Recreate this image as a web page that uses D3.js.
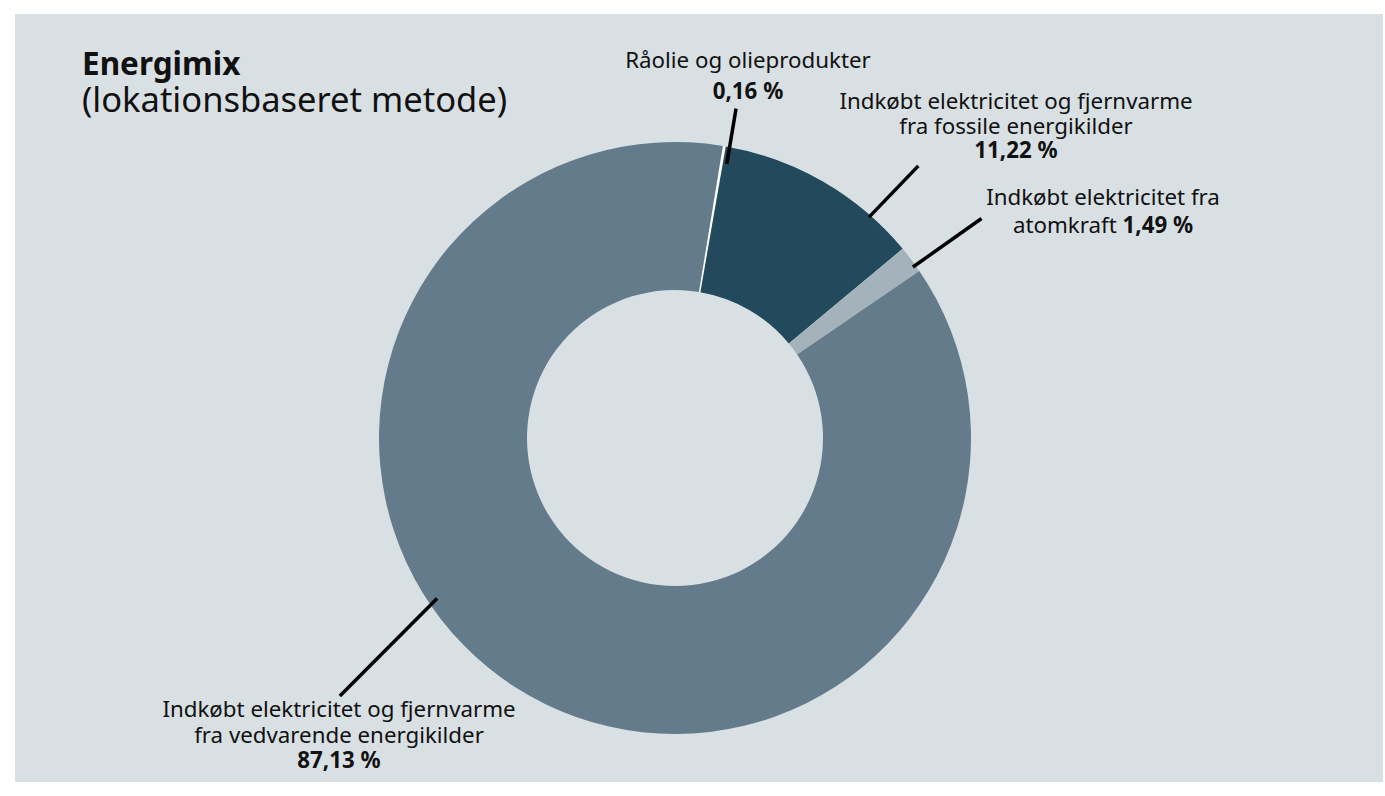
<!DOCTYPE html>
<html>
<head>
<meta charset="utf-8">
<script src="https://cdn.jsdelivr.net/npm/d3@7"></script>
<style>
  body { margin: 0; background: #fff; }
  svg text { font-family: "Noto Sans", "Open Sans", sans-serif; fill: #111; }
</style>
</head>
<body>
<div id="chart"></div>
<script>
// Data
const categories = [
  "Råolie og olieprodukter",
  "Indkøbt elektricitet og fjernvarme fra fossile energikilder",
  "Indkøbt elektricitet fra atomkraft",
  "Indkøbt elektricitet og fjernvarme fra vedvarende energikilder"
];
const shares = [0.16, 11.22, 1.49, 87.13];
const shareLabels = ["0,16 %", "11,22 %", "1,49 %", "87,13 %"];
const colors = ["#ffffff", "#22495c", "#a3b2bb", "#647b8b"];

// Layout
const width = 1385, height = 796;
const cx = 675, cy = 438, outerR = 296, innerR = 148;
const startDeg = 9.3;

const svg = d3.select("#chart")
  .append("svg")
  .attr("width", width)
  .attr("height", height);

// panel background
svg.append("rect")
  .attr("x", 15).attr("y", 14)
  .attr("width", 1368).attr("height", 768)
  .attr("fill", "#d9e0e4");

// title
svg.append("text")
  .attr("x", 82).attr("y", 75)
  .style("font-size", "31.5px")
  .style("font-weight", "bold")
  .text("Energimix");
svg.append("text")
  .attr("x", 82).attr("y", 112)
  .style("font-size", "34.5px")
  .text("(lokationsbaseret metode)");

// donut
const rad = Math.PI / 180;
const pie = d3.pie()
  .sort(null)
  .value(d => d)
  .startAngle(startDeg * rad)
  .endAngle(startDeg * rad + 2 * Math.PI);

const arc = d3.arc().innerRadius(innerR).outerRadius(outerR);

const g = svg.append("g").attr("transform", `translate(${cx},${cy})`);
g.selectAll("path")
  .data(pie(shares))
  .join("path")
  .attr("d", arc)
  .attr("fill", (d, i) => colors[i]);

// leader lines: (angle deg clockwise from top, radius) for both ends
const leaders = [
  { a0: 10.7, r0: 279, a1: 10.5, r1: 335 },
  { a0: 41.3, r0: 294, a1: 41.8, r1: 365 },
  { a0: 54.3, r0: 293, a1: 54.4, r1: 377 },
  { a0: 236.0, r0: 287, a1: 232.4, r1: 423 }
];
g.selectAll("line.leader")
  .data(leaders)
  .join("line")
  .attr("class", "leader")
  .attr("x1", d => d.r0 * Math.sin(d.a0 * rad))
  .attr("y1", d => -d.r0 * Math.cos(d.a0 * rad))
  .attr("x2", d => d.r1 * Math.sin(d.a1 * rad))
  .attr("y2", d => -d.r1 * Math.cos(d.a1 * rad))
  .attr("stroke", "#000")
  .attr("stroke-width", 3.5);

// labels: lines of [text, bold?] runs
const labelLayout = [
  { x: 748, y: 68, lh: 31, lines: [[[categories[0], false]], [[shareLabels[0], true]]] },
  { x: 1016, y: 109, lh: 24.5, lines: [
      [["Indkøbt elektricitet og fjernvarme", false]],
      [["fra fossile energikilder", false]],
      [[shareLabels[1], true]] ] },
  { x: 1103, y: 205, lh: 28, lines: [
      [["Indkøbt elektricitet fra", false]],
      [["atomkraft ", false], [shareLabels[2], true]] ] },
  { x: 339, y: 717, lh: 25.5, lines: [
      [["Indkøbt elektricitet og fjernvarme", false]],
      [["fra vedvarende energikilder", false]],
      [[shareLabels[3], true]] ] }
];

labelLayout.forEach(lab => {
  lab.lines.forEach((runs, li) => {
    const t = svg.append("text")
      .attr("x", lab.x)
      .attr("y", lab.y + li * lab.lh)
      .attr("text-anchor", "middle")
      .style("font-size", "22.3px");
    runs.forEach(([txt, bold]) => {
      t.append("tspan")
        .style("font-weight", bold ? "bold" : "normal")
        .text(txt);
    });
  });
});
</script>
</body>
</html>
